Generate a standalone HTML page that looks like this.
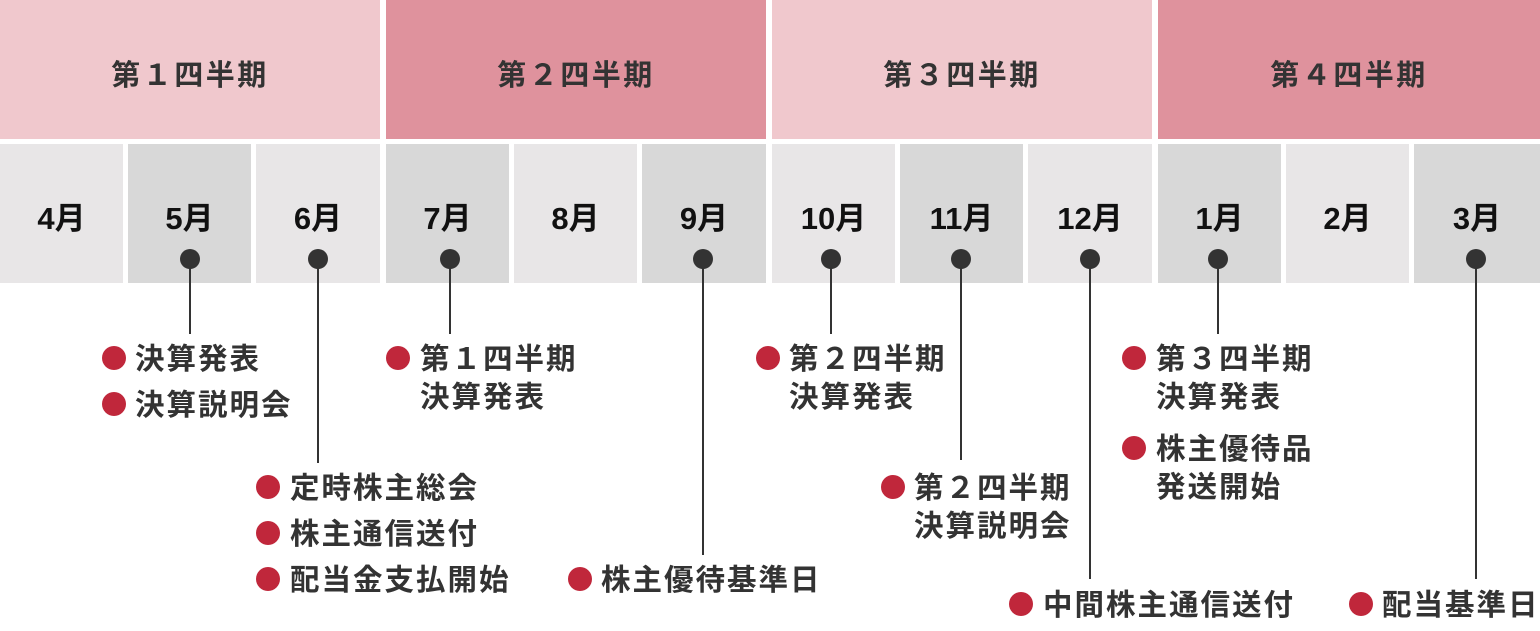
<!DOCTYPE html>
<html><head><meta charset="utf-8"><style>
body{margin:0;width:1540px;height:631px;background:#fff;position:relative;overflow:hidden;font-family:"Liberation Sans","Noto Sans CJK JP",sans-serif;}
.b{position:absolute;display:flex;align-items:center;justify-content:center;font-weight:bold;}
.q{top:0;height:139px;font-size:29px;color:#333;letter-spacing:2.5px;padding-top:6px;box-sizing:border-box;}
.m{top:144px;height:139px;font-size:31px;color:#111;padding-top:4px;box-sizing:border-box;}
.l{background:#e8e6e7}.d{background:#d8d8d8}
.dot{position:absolute;width:20px;height:20px;border-radius:50%;background:#333;}
.ln{position:absolute;width:2px;background:#333;}
.t{position:absolute;font-size:29.5px;font-weight:bold;color:#333;letter-spacing:2px;line-height:38px;white-space:nowrap;margin-top:2px;}
.r{position:absolute;width:24px;height:24px;border-radius:50%;background:#c0273b;}
</style></head><body>
<div class="b q" style="left:0;width:380px;background:#f0c8cd">第１四半期</div>
<div class="b q" style="left:386px;width:380px;background:#df929d">第２四半期</div>
<div class="b q" style="left:772px;width:380px;background:#f0c8cd">第３四半期</div>
<div class="b q" style="left:1158px;width:382px;background:#df929d">第４四半期</div>

<div class="b m l" style="left:0;width:123px">4月</div>
<div class="b m d" style="left:128px;width:123px">5月</div>
<div class="b m l" style="left:256px;width:124px">6月</div>
<div class="b m d" style="left:386px;width:123px">7月</div>
<div class="b m l" style="left:514px;width:123px">8月</div>
<div class="b m d" style="left:642px;width:124px">9月</div>
<div class="b m l" style="left:772px;width:123px">10月</div>
<div class="b m d" style="left:900px;width:123px">11月</div>
<div class="b m l" style="left:1028px;width:124px">12月</div>
<div class="b m d" style="left:1158px;width:123px">1月</div>
<div class="b m l" style="left:1286px;width:123px">2月</div>
<div class="b m d" style="left:1414px;width:126px">3月</div>

<div class="ln" style="left:189px;top:259px;height:75px"></div><div class="dot" style="left:180px;top:249px"></div>
<div class="ln" style="left:317px;top:259px;height:204px"></div><div class="dot" style="left:308px;top:249px"></div>
<div class="ln" style="left:449px;top:259px;height:75px"></div><div class="dot" style="left:440px;top:249px"></div>
<div class="ln" style="left:702px;top:259px;height:296px"></div><div class="dot" style="left:693px;top:249px"></div>
<div class="ln" style="left:830px;top:259px;height:75px"></div><div class="dot" style="left:821px;top:249px"></div>
<div class="ln" style="left:960px;top:259px;height:201px"></div><div class="dot" style="left:951px;top:249px"></div>
<div class="ln" style="left:1089px;top:259px;height:320px"></div><div class="dot" style="left:1080px;top:249px"></div>
<div class="ln" style="left:1217px;top:259px;height:75px"></div><div class="dot" style="left:1208px;top:249px"></div>
<div class="ln" style="left:1475px;top:259px;height:320px"></div><div class="dot" style="left:1466px;top:249px"></div>

<div class="r" style="left:102px;top:346px"></div><div class="t" style="left:135px;top:339px">決算発表</div>
<div class="r" style="left:102px;top:392px"></div><div class="t" style="left:135px;top:385px">決算説明会</div>

<div class="r" style="left:256px;top:475px"></div><div class="t" style="left:290px;top:468px">定時株主総会</div>
<div class="r" style="left:256px;top:521px"></div><div class="t" style="left:290px;top:514px">株主通信送付</div>
<div class="r" style="left:256px;top:567px"></div><div class="t" style="left:290px;top:560px">配当金支払開始</div>

<div class="r" style="left:386px;top:346px"></div><div class="t" style="left:420px;top:339px">第１四半期<br>決算発表</div>

<div class="r" style="left:568px;top:567px"></div><div class="t" style="left:601px;top:560px">株主優待基準日</div>

<div class="r" style="left:756px;top:346px"></div><div class="t" style="left:789px;top:339px">第２四半期<br>決算発表</div>

<div class="r" style="left:881px;top:475px"></div><div class="t" style="left:914px;top:468px">第２四半期<br>決算説明会</div>

<div class="r" style="left:1009px;top:592px"></div><div class="t" style="left:1043px;top:585px">中間株主通信送付</div>

<div class="r" style="left:1122px;top:346px"></div><div class="t" style="left:1156px;top:339px">第３四半期<br>決算発表</div>
<div class="r" style="left:1122px;top:436px"></div><div class="t" style="left:1156px;top:429px">株主優待品<br>発送開始</div>

<div class="r" style="left:1349px;top:592px"></div><div class="t" style="left:1382px;top:585px">配当基準日</div>
</body></html>
